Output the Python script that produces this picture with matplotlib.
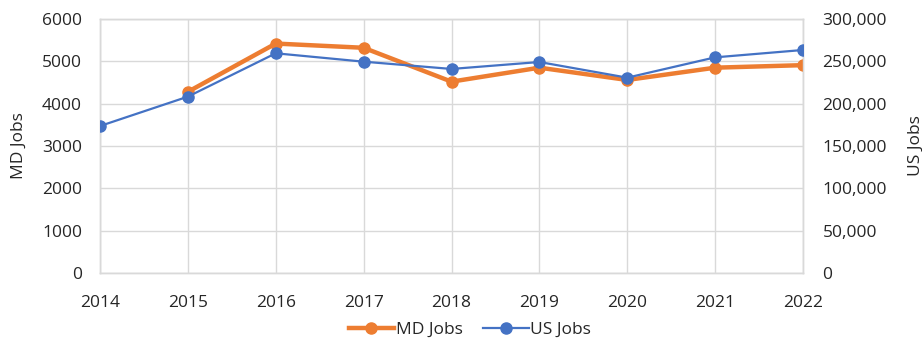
import matplotlib
matplotlib.use("Agg")
import matplotlib.pyplot as plt
from matplotlib.ticker import FuncFormatter, MultipleLocator
from matplotlib.lines import Line2D

plt.rcParams['font.family'] = ['Open Sans', 'DejaVu Sans']

years = [2014, 2015, 2016, 2017, 2018, 2019, 2020, 2021, 2022]
md_years = [2015, 2016, 2017, 2018, 2019, 2020, 2021, 2022]
md_jobs = [4280, 5420, 5320, 4520, 4850, 4560, 4850, 4910]
us_jobs = [173600, 208300, 259500, 249600, 241000, 249200, 230700, 254700, 263400]

orange = '#ED7D31'
blue = '#4472C4'
grid_c = '#D9D9D9'
text_c = '#262626'
fs = 12.5

fig = plt.figure(figsize=(9.22, 3.42), dpi=100)
ax = fig.add_axes([100/922, 69/342, 703/922, 254/342])
ax2 = ax.twinx()

ax.plot(md_years, md_jobs, color=orange, lw=3.2, marker='o', ms=8, zorder=3,
        solid_capstyle='round')
ax2.plot(years, us_jobs, color=blue, lw=1.6, marker='o', ms=8, zorder=3)

ax.set_xlim(2014, 2022)
ax.set_ylim(0, 6000)
ax2.set_ylim(0, 300000)
ax.set_xticks(years)
ax.yaxis.set_major_locator(MultipleLocator(1000))
ax2.yaxis.set_major_locator(MultipleLocator(50000))
ax2.yaxis.set_major_formatter(FuncFormatter(lambda v, p: f'{int(v):,}'))

ax.grid(True, color=grid_c, lw=1.0)
ax.set_axisbelow(True)
for a in (ax, ax2):
    for s in a.spines.values():
        s.set_color(grid_c)
        s.set_linewidth(1.0)
    a.tick_params(length=0, labelsize=fs, colors=text_c)
ax.tick_params(axis='x', pad=16)
ax.tick_params(axis='y', pad=13)
ax2.tick_params(axis='y', pad=14)

ax.set_ylabel('MD Jobs', fontsize=fs, color=text_c, labelpad=11)
ax2.set_ylabel('US Jobs', fontsize=fs, color=text_c, labelpad=15)

handles = [Line2D([], [], color=orange, lw=3.2, marker='o', ms=8),
           Line2D([], [], color=blue, lw=1.6, marker='o', ms=8)]
fig.legend(handles, ['MD Jobs', 'US Jobs'], loc='center', bbox_to_anchor=(470/922, 1 - 330/342),
           ncol=2, frameon=False, fontsize=fs, handlelength=2.6, handletextpad=0.1,
           columnspacing=1.2, labelcolor=text_c)

fig.savefig('out.png', dpi=100)
